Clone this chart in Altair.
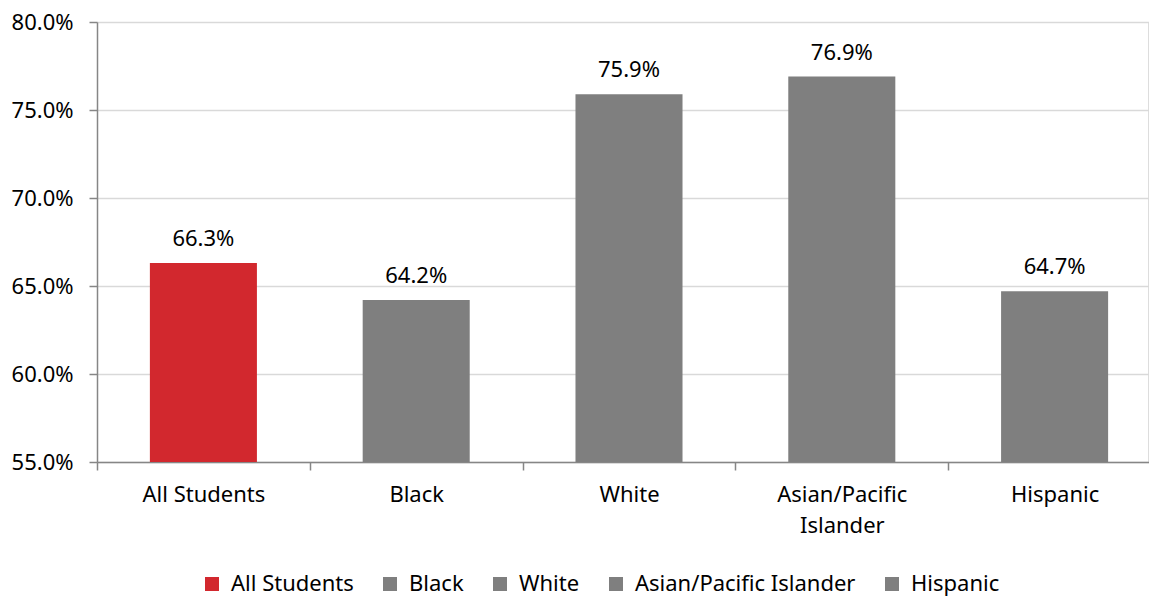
import altair as alt
import pandas as pd

categories = ["All Students", "Black", "White", "Asian/Pacific Islander", "Hispanic"]
values = [66.3, 64.2, 75.9, 76.9, 64.7]
colors = ["#D2282E", "#7F7F7F", "#7F7F7F", "#7F7F7F", "#7F7F7F"]
y_ticks = [55, 60, 65, 70, 75, 80]

df = pd.DataFrame({"cat": categories, "val": values, "label": [f"{v:.1f}%" for v in values]})

FONT = "Noto Sans"
FS = 22

x = alt.X("cat:N", sort=categories, title=None,
          scale=alt.Scale(paddingInner=0, paddingOuter=0, range=[0, 1064]),
          axis=alt.Axis(labelAngle=0, labelFontSize=FS, labelFont=FONT, labelColor="#000000",
                        domainColor="#868686", tickColor="#868686", tickSize=8, tickBand="extent",
                        domainWidth=1.5, tickWidth=1.5,
                        labelPadding=14, labelLineHeight=31,
                        labelExpr="datum.label == 'Asian/Pacific Islander' ? ['Asian/Pacific', 'Islander'] : datum.label"))

y = alt.Y("val:Q", title=None,
          scale=alt.Scale(domain=[55, 80], nice=False, zero=False),
          axis=alt.Axis(values=y_ticks, labelExpr="format(datum.value, '.1f') + '%'",
                        labelFontSize=FS, labelFont=FONT, labelColor="#000000", labelPadding=16,
                        domainColor="#868686", tickColor="#868686", tickSize=8,
                        domainWidth=1.5, tickWidth=1.5,
                        gridColor="#D9D9D9", gridWidth=1.5))

bars = alt.Chart(df).mark_bar(clip=True, width=alt.RelativeBandSize(0.503)).encode(
    x=x,
    y=y,
    y2=alt.datum(55),
    color=alt.Color("cat:N", sort=categories,
                    scale=alt.Scale(domain=categories, range=colors),
                    legend=alt.Legend(title=None, orient="none", legendX=104, legendY=551,
                                      padding=0, direction="horizontal", symbolType="square",
                                      symbolSize=196, symbolStrokeWidth=0, labelFontSize=FS,
                                      labelFont=FONT, labelLimit=0, labelColor="#000000",
                                      columnPadding=25, labelOffset=8)),
)

text = alt.Chart(df).mark_text(baseline="alphabetic", dy=-17, fontSize=FS, font=FONT, color="#000000").encode(
    x=alt.X("cat:N", sort=categories),
    y=alt.Y("val:Q"),
    text="label:N",
)

chart = (bars + text).properties(
    width=1051, height=440,
    autosize=alt.AutoSizeParams(type="none"),
    padding={"left": 97, "top": 22, "right": 1, "bottom": 135},
).configure_view(stroke=None).configure(background="white")

chart.save("out.html", embed_options={"renderer": "svg", "actions": False})
